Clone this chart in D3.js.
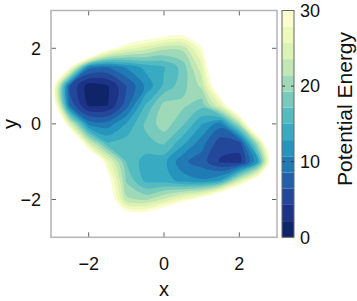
<!DOCTYPE html>
<html>
<head>
<meta charset="utf-8">
<script src="https://cdn.jsdelivr.net/npm/d3@7"></script>
<style>
  body { margin: 0; background: #fff; }
  svg { display: block; }
  text { font-family: "Liberation Sans", Arial, Helvetica, sans-serif; fill: #111; }
</style>
</head>
<body>
<div id="chart"></div>
<script>
// grid positions of the sampled surface
const xGrid = [-3, -2.5, -2, -1.5, -1, -0.5, 0, 0.5, 1, 1.5, 2, 2.5, 3]
const yGrid = [3, 2.5, 2, 1.5, 1, 0.5, 0, -0.5, -1, -1.5, -2, -2.5, -3]

// potential energy, one row per y (top to bottom)
const energy = [
  [80, 74, 68, 62, 56, 52, 48, 45, 48, 55, 62, 70, 80],
  [75, 68, 62, 55, 40, 37, 35, 34, 37, 48, 58, 66, 75],
  [70, 60, 51, 32.3, 27, 24.5, 22, 22, 29.5, 45, 58, 68, 78],
  [45, 30.5, 9.5, 8.5, 11, 13.5, 14.8, 18, 25, 41.7, 55, 65, 75],
  [35, 6.5, 1.0, 1.9, 6.3, 11, 15.5, 18.5, 22, 36, 50, 60, 70],
  [38, 8, 1.7, 2.0, 7.5, 15, 20, 19.8, 18, 26, 41, 55, 65],
  [50, 25, 10, 9.5, 13, 17.5, 20.5, 17.5, 13, 9.5, 21, 45, 58],
  [57, 45, 24, 15, 16, 16.5, 17.5, 13.5, 9.5, 5.2, 5.6, 22, 48],
  [62, 52, 42, 27, 17, 14, 13.5, 9, 7.5, 4.0, 3.3, 13, 41],
  [65, 55, 45, 32.4, 19, 14.5, 14, 12, 11, 13, 24, 35, 50],
  [75, 65, 55, 35.3, 22, 21, 24, 28, 32.1, 41.3, 47, 55, 62],
  [80, 70, 60, 45, 35.3, 34.6, 39, 45, 45, 52, 58, 65, 72],
  [85, 78, 70, 60, 50, 45, 48, 52, 56, 62, 68, 74, 80]
]

const zMax = 30
const levelCount = 14
const xTicks = [-2, 0, 2]
const yTicks = [-2, 0, 2]
const colorTicks = [0, 10, 20, 30]

const width = 357
const height = 301
const plot = { left: 51, right: 277, top: 10.5, bottom: 237.3 }
const bar = { left: 282, right: 294 }

const levels = d3.range(levelCount + 1).map(i => (zMax * i) / levelCount)
const bandColor = k => d3.interpolateYlGnBu(1 - (k + 0.5) / levelCount)

const x = d3.scaleLinear().domain([-3, 3]).range([plot.left, plot.right])
const y = d3.scaleLinear().domain([-3, 3]).range([plot.bottom, plot.top])
const z = d3.scaleLinear().domain([0, zMax]).range([plot.bottom, plot.top])

const svg = d3
  .create("svg")
  .attr("width", width)
  .attr("height", height)
  .attr("viewBox", [0, 0, width, height])

// filled contours: region energy <= level, painted from the outer level inwards
const nx = xGrid.length
const ny = yGrid.length
const dx = xGrid[1] - xGrid[0]
const dy = yGrid[1] - yGrid[0]
const bands = d3.range(levelCount).reverse()
const contours = d3
  .contours()
  .size([nx, ny])
  .thresholds(bands.map(k => -levels[k + 1]))(energy.flat().map(v => -v))

const toPx = ([gx, gy]) => [x(xGrid[0] + (gx - 0.5) * dx), y(yGrid[0] + (gy - 0.5) * dy)]
const ringLine = d3.line().curve(d3.curveCatmullRomClosed.alpha(0.5))

const g = svg.append("g")
contours.forEach((c, i) => {
  const d = c.coordinates
    .flatMap(poly => poly.map(ring => ringLine(ring.slice(0, -1).map(toPx))))
    .join("")
  if (!d) return
  g.append("path")
    .attr("d", d)
    .attr("fill", bandColor(bands[i]))
    .attr("fill-rule", "evenodd")
})

// frame and inward ticks on all sides
const tickLen = 5
const axisG = svg.append("g").attr("stroke", "#666").attr("stroke-width", 1)
xTicks.forEach(t => {
  axisG.append("line").attr("x1", x(t)).attr("x2", x(t)).attr("y1", plot.bottom).attr("y2", plot.bottom - tickLen)
  axisG.append("line").attr("x1", x(t)).attr("x2", x(t)).attr("y1", plot.top).attr("y2", plot.top + tickLen)
})
yTicks.forEach(t => {
  axisG.append("line").attr("y1", y(t)).attr("y2", y(t)).attr("x1", plot.left).attr("x2", plot.left + tickLen)
  axisG.append("line").attr("y1", y(t)).attr("y2", y(t)).attr("x1", plot.right).attr("x2", plot.right - tickLen)
})
svg.append("rect")
  .attr("x", plot.left)
  .attr("y", plot.top)
  .attr("width", plot.right - plot.left)
  .attr("height", plot.bottom - plot.top)
  .attr("fill", "none")
  .attr("stroke", "#b4b4b4")
  .attr("stroke-width", 1.5)

const fmt = t => (t < 0 ? "\u2212" + Math.abs(t) : String(t))

svg.append("g")
  .selectAll("text")
  .data(xTicks)
  .join("text")
  .attr("x", d => x(d))
  .attr("y", 270)
  .attr("text-anchor", "middle")
  .attr("font-size", 18)
  .text(fmt)

svg.append("g")
  .selectAll("text")
  .data(yTicks)
  .join("text")
  .attr("x", 41)
  .attr("y", d => y(d))
  .attr("dy", "0.35em")
  .attr("text-anchor", "end")
  .attr("font-size", 18)
  .text(fmt)

svg.append("text")
  .attr("x", x(0))
  .attr("y", 296)
  .attr("text-anchor", "middle")
  .attr("font-size", 20)
  .text("x")

svg.append("text")
  .attr("transform", `translate(17,${y(0)}) rotate(-90)`)
  .attr("text-anchor", "middle")
  .attr("font-size", 20)
  .text("y")

// colour bar
const cb = svg.append("g")
cb.selectAll("rect")
  .data(d3.range(levelCount))
  .join("rect")
  .attr("x", bar.left)
  .attr("width", bar.right - bar.left)
  .attr("y", k => z(levels[k + 1]))
  .attr("height", k => z(levels[k]) - z(levels[k + 1]))
  .attr("fill", k => bandColor(k))
cb.selectAll("line")
  .data(colorTicks.slice(1, -1).flatMap(t => [[t, bar.left, bar.left + 3], [t, bar.right, bar.right - 3]]))
  .join("line")
  .attr("x1", d => d[1])
  .attr("x2", d => d[2])
  .attr("y1", d => z(d[0]))
  .attr("y2", d => z(d[0]))
  .attr("stroke", "#333")
cb.append("rect")
  .attr("x", bar.left)
  .attr("y", plot.top)
  .attr("width", bar.right - bar.left)
  .attr("height", plot.bottom - plot.top)
  .attr("fill", "none")
  .attr("stroke", "#666")
  .attr("stroke-width", 1)
cb.selectAll("text")
  .data(colorTicks)
  .join("text")
  .attr("x", 300)
  .attr("y", d => z(d))
  .attr("dy", "0.35em")
  .attr("font-size", 18)
  .text(d => d)

svg.append("text")
  .attr("transform", `translate(352,109) rotate(-90)`)
  .attr("text-anchor", "middle")
  .attr("font-size", 21)
  .text("Potential Energy")

document.querySelector("#chart").append(svg.node())
</script>
</body>
</html>
